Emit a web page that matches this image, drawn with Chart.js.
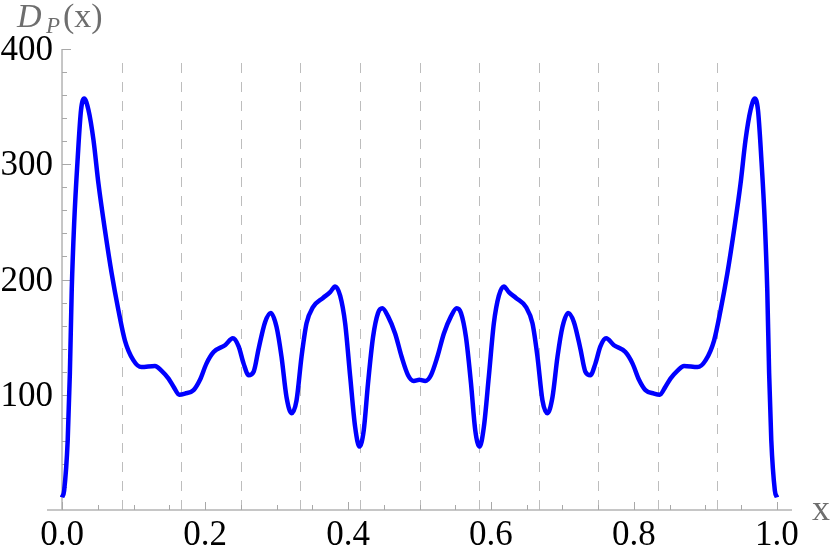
<!DOCTYPE html>
<html>
<head>
<meta charset="utf-8">
<script src="https://cdn.jsdelivr.net/npm/chart.js@4"></script>
<style>
  html, body { margin: 0; padding: 0; background: #fff; }
  canvas { display: block; }
</style>
</head>
<body>
<canvas id="chart" width="830" height="546"></canvas>
<script>
/* ============================
   DATA
============================ */
const xValues = [
  0.000, 0.003, 0.008, 0.011, 0.0136, 0.017, 0.022, 0.0266, 0.031, 0.037,
  0.044, 0.051, 0.060, 0.0695, 0.079, 0.088, 0.0997, 0.111, 0.130, 0.139,
  0.149, 0.156, 0.164, 0.172, 0.184, 0.193, 0.202, 0.212, 0.228, 0.239,
  0.247, 0.254, 0.261, 0.268, 0.275, 0.284, 0.292, 0.300, 0.307, 0.314,
  0.321, 0.328, 0.335, 0.342, 0.351, 0.365, 0.375, 0.382, 0.389, 0.396,
  0.403, 0.410, 0.416, 0.422, 0.428, 0.435, 0.442, 0.448, 0.456, 0.466,
  0.475, 0.484, 0.492, 0.500,
  0.508, 0.516, 0.525, 0.534, 0.544, 0.552, 0.558, 0.565, 0.572, 0.578,
  0.584, 0.590, 0.597, 0.604, 0.611, 0.618, 0.625, 0.635, 0.649, 0.658,
  0.665, 0.672, 0.679, 0.686, 0.693, 0.700, 0.708, 0.716, 0.725, 0.732,
  0.739, 0.746, 0.753, 0.761, 0.772, 0.788, 0.798, 0.807, 0.816, 0.828,
  0.836, 0.844, 0.851, 0.861, 0.870, 0.889, 0.9003, 0.912, 0.921, 0.9305,
  0.940, 0.949, 0.956, 0.963, 0.969, 0.9734, 0.978, 0.983, 0.9864, 0.989,
  0.992, 0.997, 1.000
];
const dpValues = [
  11, 17, 61, 119, 191, 249, 306, 347, 357, 347,
  321, 283, 243, 205, 173, 147, 130, 124, 125, 121,
  114, 107, 100, 101, 104, 113, 127, 137, 143, 149,
  142, 127, 117, 120, 140, 163, 171, 159, 133, 98,
  84, 95, 133, 162, 176, 184, 189, 194, 186, 162,
  116, 72, 55, 69, 110, 150, 171, 175, 168, 153,
  133, 117, 112, 113,
  112, 117, 133, 153, 168, 175, 171, 150, 110, 69,
  55, 72, 116, 162, 186, 194, 189, 184, 176, 162,
  133, 95, 84, 98, 133, 159, 171, 163, 140, 120,
  117, 127, 142, 149, 143, 137, 127, 113, 104, 101,
  100, 107, 114, 121, 125, 124, 130, 147, 173, 205,
  243, 283, 321, 347, 357, 347, 306, 249, 191, 119,
  61, 17, 11
];

const xMajorTicks = [0.0, 0.2, 0.4, 0.6, 0.8, 1.0];
const xTickLabels = ['0.0', '0.2', '0.4', '0.6', '0.8', '1.0'];
const xMinorTicks = [0.05, 0.1, 0.15, 0.25, 0.3, 0.35, 0.45, 0.5, 0.55, 0.65, 0.7, 0.75, 0.85, 0.9, 0.95];
const yMajorTicks = [100, 200, 300, 400];
const yTickLabels = ['100', '200', '300', '400'];
const yMinorTicks = [20, 40, 60, 80, 120, 140, 160, 180, 220, 240, 260, 280, 320, 340, 360, 380];
const dashedLines = [0.0833, 0.1667, 0.25, 0.3333, 0.4167, 0.5, 0.5833, 0.6667, 0.75, 0.8333, 0.9167];

/* ============================
   AXES PLUGIN (Mathematica style)
============================ */
const FONT = "'Liberation Serif', 'Times New Roman', Tinos, 'Nimbus Roman', 'DejaVu Serif', serif";

const mathAxes = {
    id: 'mathAxes',
    beforeDatasetsDraw(chart) {
        const { ctx, scales: { x, y } } = chart;
        const x0 = x.getPixelForValue(0);
        const y0 = y.getPixelForValue(0);
        const yTop = y.getPixelForValue(400);

        ctx.save();

        // dashed verticals
        ctx.strokeStyle = '#bdbdbd';
        ctx.lineWidth = 1;
        ctx.setLineDash([10, 9]);
        dashedLines.forEach(v => {
            const px = Math.round(x.getPixelForValue(v)) + 0.5;
            ctx.beginPath();
            ctx.moveTo(px, y0);
            ctx.lineTo(px, yTop + 6);
            ctx.stroke();
        });
        ctx.setLineDash([]);

        // axis lines
        ctx.strokeStyle = '#b4b4b4';
        ctx.lineWidth = 1.5;
        ctx.beginPath();
        ctx.moveTo(x.left, y0);
        ctx.lineTo(x.right, y0);
        ctx.moveTo(x0, y0);
        ctx.lineTo(x0, yTop);
        ctx.stroke();

        // ticks
        ctx.strokeStyle = '#a8a8a8';
        ctx.lineWidth = 1;
        ctx.beginPath();
        xMajorTicks.forEach(v => {
            const px = Math.round(x.getPixelForValue(v)) + 0.5;
            ctx.moveTo(px, y0); ctx.lineTo(px, y0 - 8);
        });
        xMinorTicks.forEach(v => {
            const px = Math.round(x.getPixelForValue(v)) + 0.5;
            ctx.moveTo(px, y0); ctx.lineTo(px, y0 - 5);
        });
        yMajorTicks.forEach(v => {
            const py = Math.round(y.getPixelForValue(v)) + 0.5;
            ctx.moveTo(x0, py); ctx.lineTo(x0 + 9, py);
        });
        yMinorTicks.forEach(v => {
            const py = Math.round(y.getPixelForValue(v)) + 0.5;
            ctx.moveTo(x0, py); ctx.lineTo(x0 + 5, py);
        });
        ctx.stroke();
        ctx.restore();
    },
    afterDraw(chart) {
        const { ctx, scales: { x, y } } = chart;
        const x0 = x.getPixelForValue(0);
        const y0 = y.getPixelForValue(0);

        ctx.save();
        ctx.fillStyle = '#000';
        ctx.font = '35px ' + FONT;
        ctx.textBaseline = 'alphabetic';

        // x tick labels
        ctx.textAlign = 'center';
        xMajorTicks.forEach((v, i) => {
            ctx.fillText(xTickLabels[i], x.getPixelForValue(v), y0 + 35);
        });

        // y tick labels
        ctx.textAlign = 'right';
        yMajorTicks.forEach((v, i) => {
            ctx.fillText(yTickLabels[i], x0 - 9, y.getPixelForValue(v) + 11);
        });

        // axis titles
        ctx.fillStyle = '#6e6e6e';
        ctx.textAlign = 'left';
        ctx.font = 'italic 34px ' + FONT;
        ctx.fillText('D', 17, 27);
        ctx.font = 'italic 23px ' + FONT;
        ctx.fillText('P', 46, 33);
        ctx.font = '34px ' + FONT;
        ctx.fillText('(x)', 63, 27);
        ctx.font = '36px ' + FONT;
        ctx.fillText('x', 812, 520);
        ctx.restore();
    }
};

/* ============================
   CHART
============================ */
new Chart(document.getElementById('chart'), {
    type: 'line',
    data: {
        datasets: [{
            data: xValues.map((v, i) => ({ x: v, y: dpValues[i] })),
            borderColor: '#0000ff',
            borderWidth: 4.5,
            pointRadius: 0,
            fill: false,
            cubicInterpolationMode: 'monotone'
        }]
    },
    options: {
        responsive: false,
        animation: false,
        layout: { padding: { left: 47, right: 38, top: 49, bottom: 36 } },
        plugins: { legend: { display: false }, tooltip: { enabled: false } },
        scales: {
            x: { type: 'linear', min: -0.021, max: 1.021, display: false },
            y: { min: 0, max: 400, display: false }
        }
    },
    plugins: [mathAxes]
});
</script>
</body>
</html>
